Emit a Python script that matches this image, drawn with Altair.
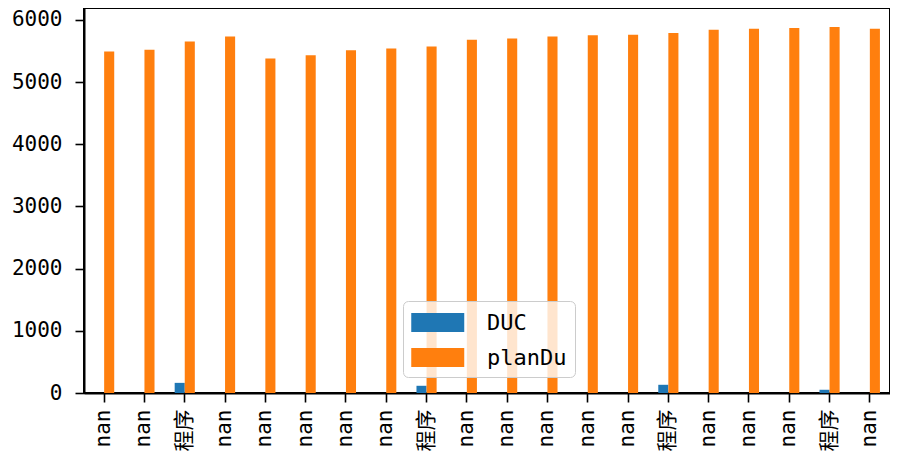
import json
import altair as alt
import pandas as pd

labels = ["nan", "nan", "程序", "nan", "nan", "nan", "nan", "nan", "程序", "nan",
          "nan", "nan", "nan", "nan", "程序", "nan", "nan", "nan", "程序", "nan"]
duc = [0, 0, 163, 0, 0, 0, 0, 0, 116, 0, 0, 0, 0, 0, 132, 0, 0, 0, 52, 0]
plan_du = [5490, 5520, 5650, 5730, 5380, 5430, 5510, 5540, 5570, 5680,
           5700, 5730, 5750, 5760, 5790, 5840, 5855, 5870, 5885, 5855]
series = ["DUC", "planDu"]
colors = ["#1f77b4", "#ff7f0e"]
y_ticks = [0, 1000, 2000, 3000, 4000, 5000, 6000]

rows = []
for i in range(len(labels)):
    rows.append({"idx": i, "series": "DUC", "value": duc[i]})
    rows.append({"idx": i, "series": "planDu", "value": plan_du[i]})
df = pd.DataFrame(rows)

label_expr = json.dumps(labels, ensure_ascii=False) + "[datum.value]"
FONT = "DejaVu Sans Mono, Noto Sans CJK SC"

chart = alt.Chart(df).mark_bar().encode(
    x=alt.X("idx:O",
            scale=alt.Scale(paddingInner=0.5, paddingOuter=0.25, round=False),
            axis=alt.Axis(title=None, labelExpr=label_expr, labelAngle=270,
                          labelFontSize=21, labelFont=FONT, labelColor="black",
                          tickColor="black", tickSize=9, tickWidth=1.6,
                          labelPadding=7, domainColor="black", domainWidth=2)),
    xOffset=alt.XOffset("series:N", sort=series,
                        scale=alt.Scale(paddingInner=0, paddingOuter=0)),
    y=alt.Y("value:Q",
            scale=alt.Scale(domain=[0, 6190], nice=False),
            axis=alt.Axis(title=None, values=y_ticks, grid=False, format="d",
                          labelFontSize=21, labelFont=FONT, labelColor="black",
                          tickColor="black", tickSize=9, tickWidth=1.6,
                          labelPadding=13, domainColor="black", domainWidth=2)),
    color=alt.Color("series:N",
                    scale=alt.Scale(domain=series, range=colors),
                    legend=alt.Legend(title=None, orient="none",
                                      legendX=319, legendY=293,
                                      symbolType="M-1,-0.72L3,-0.72L3,0.72L-1,0.72Z",
                                      symbolSize=702, symbolStrokeWidth=0,
                                      labelFontSize=22, labelFont=FONT,
                                      labelColor="black", labelOffset=49,
                                      padding=8, rowPadding=10,
                                      fillColor="rgba(255,255,255,0.8)",
                                      strokeColor="#cccccc", cornerRadius=5)),
).properties(
    width=806, height=385,
    padding={"left": 3, "top": 0, "right": 0, "bottom": 0},
).configure_view(stroke="black", strokeWidth=2)

chart.save("out.html", embed_options={"renderer": "svg", "actions": False})
